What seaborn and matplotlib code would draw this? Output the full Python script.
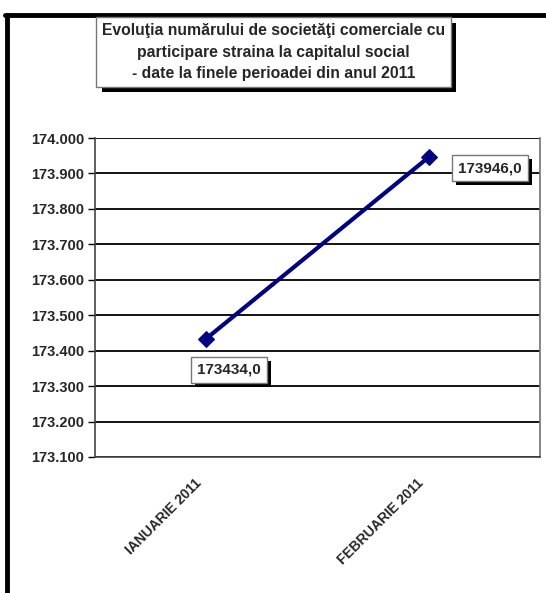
import pandas as pd
import matplotlib.pyplot as plt
import matplotlib.patheffects as pe
import matplotlib.transforms as mtransforms
from matplotlib.lines import Line2D
import seaborn as sns

sns.set_theme(style="white")
plt.rcParams['font.family'] = ['Liberation Sans', 'DejaVu Sans']

# data
months = ["IANUARIE 2011", "FEBRUARIE 2011"]
companies = [173434.0, 173946.0]
y_ticks = [173100, 173200, 173300, 173400, 173500, 173600, 173700, 173800, 173900, 174000]
title_text = ("Evoluţia numărului de societăţi comerciale cu\n"
              "participare straina la capitalul social\n"
              "- date la finele perioadei din anul 2011")

df = pd.DataFrame({"luna": months, "valoare": companies})

fig = plt.figure(figsize=(5.46, 5.93), dpi=100)
ax = fig.add_axes([95 / 546, 1 - 457 / 593, 445 / 546, 319 / 593])

sns.lineplot(data=df, x="luna", y="valoare", ax=ax, color="#000080", linewidth=3,
             marker="D", markersize=8, markeredgecolor="#000080")

ax.set_xlim(-0.5, 1.5)
ax.set_ylim(y_ticks[0], y_ticks[-1])
ax.set_yticks(y_ticks)
ax.set_yticklabels([f"{v / 1000:.3f}" for v in y_ticks], fontsize=10.5, fontweight="bold")
ax.set_xticks(range(len(months)))
ax.set_xticklabels(months, rotation=45, ha="right", rotation_mode="anchor",
                   fontsize=10, fontweight="bold")
ax.set_xticks([-0.5, 0.5, 1.5], minor=True)
ax.tick_params(axis="x", which="major", length=0, pad=14)
ax.tick_params(axis="x", which="minor", length=5, width=1, color="#555555", direction="out")
ax.tick_params(axis="y", length=5, width=1, color="black", direction="out", left=True, pad=3)
ax.set_xlabel("")
ax.set_ylabel("")

# nudge the rotated month labels a little to the left
shift = mtransforms.ScaledTranslation(-12 / 100, 0, fig.dpi_scale_trans)
for lbl in ax.get_xticklabels():
    lbl.set_transform(lbl.get_transform() + shift)

for v in y_ticks:
    ax.axhline(v, color="black", linewidth=1.3, zorder=0)
for s in ["left", "bottom"]:
    ax.spines[s].set_color("#444444")
    ax.spines[s].set_linewidth(1.2)
ax.spines["right"].set_color("#777777")
ax.spines["top"].set_visible(False)

# data labels with shadowed boxes
label_offsets = [(23, -31), (61, -11)]
for i, (v, off) in enumerate(zip(companies, label_offsets)):
    t = ax.annotate(f"{v:.1f}".replace(".", ","), (i, v), xytext=off,
                    textcoords="offset pixels", ha="center", va="center",
                    fontsize=11, fontweight="bold",
                    bbox=dict(boxstyle="square,pad=0.4", fc="white", ec="#777777", lw=1))
    t.get_bbox_patch().set_path_effects([
        pe.SimplePatchShadow(offset=(3, -3), shadow_rgbFace="black", alpha=1), pe.Normal()])

# title box
tt = fig.text(273.5 / 546, 1 - 52 / 593, title_text, ha="center", va="center",
              fontsize=11.3, fontweight="bold", linespacing=1.55,
              bbox=dict(boxstyle="square,pad=0.35", fc="white", ec="#777777", lw=1))
tt.get_bbox_patch().set_path_effects([
    pe.SimplePatchShadow(offset=(4, -4), shadow_rgbFace="black", alpha=1), pe.Normal()])

# outer chart frame (left and top edges visible)
fig.add_artist(Line2D([7 / 546, 7 / 546], [0, 1 - 15 / 593], transform=fig.transFigure,
                      color="black", linewidth=3.5))
fig.add_artist(Line2D([5 / 546, 1], [1 - 15 / 593, 1 - 15 / 593], transform=fig.transFigure,
                      color="black", linewidth=3.5))

fig.savefig("out.png", dpi=100)
plt.close(fig)
